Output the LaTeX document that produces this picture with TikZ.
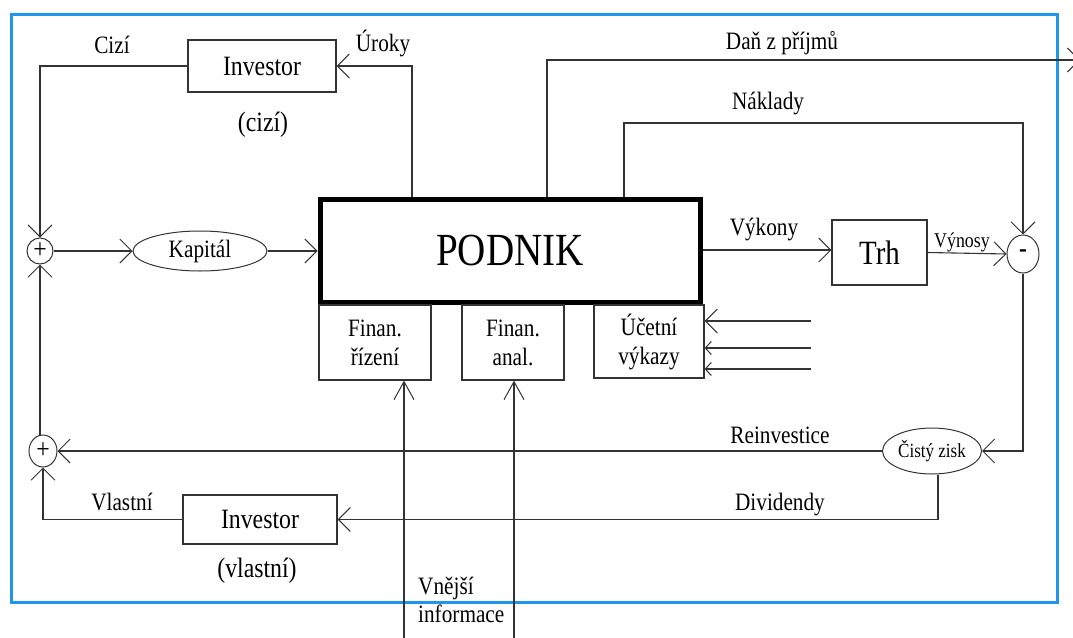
\documentclass[tikz,border=0pt]{standalone}
\usepackage{fontspec}
\setmainfont{Liberation Serif}[FakeStretch=0.85]
\usetikzlibrary{arrows.meta,shapes.geometric,calc}
\definecolor{frameblue}{RGB}{30,150,235}
\newcommand\fsz[2]{\fontsize{#1}{#2}\selectfont}
\tikzset{
 ln/.style={line width=1.1pt, draw=black!80},
 arr/.style={ln, -{Straight Barb[length=12pt,width=24pt,line width=1pt]}},
 sarr/.style={ln, -{Straight Barb[length=6pt,width=13pt,line width=1pt]}},
 varr/.style={ln, -{Straight Barb[length=18pt,width=20pt,line width=1pt]}},
 box/.style={draw=black!80, line width=1.2pt, inner sep=0pt, align=center},
 oval/.style={ellipse, draw=black!80, line width=1pt, inner sep=0pt},
 lbl/.style={inner sep=0pt, anchor=base, font=\fsz{25}{28}},
}
\begin{document}
\begin{tikzpicture}[x=1pt,y=-1pt]
\useasboundingbox (0,0) rectangle (1073,637);
\draw[frameblue, line width=3pt] (11,14) rectangle (1057,602);

% main nodes
\node[draw=black, line width=5pt, minimum width=380pt, minimum height=103pt, inner sep=0pt, font=\fsz{46}{50}] (podnik) at (510,250.5) {PODNIK};
\node[box, minimum width=148pt, minimum height=52pt, font=\fsz{28}{32}] (inv1) at (262,66) {Investor};
\node[box, minimum width=154pt, minimum height=49pt, font=\fsz{28}{32}] (inv2) at (260,519.5) {Investor};
\node[box, minimum width=112pt, minimum height=75pt, font=\fsz{25}{29}] (fr) at (375,342.5) {Finan.\\řízení};
\node[box, minimum width=102pt, minimum height=75pt, font=\fsz{25}{29}] (fa) at (513,342.5) {Finan.\\anal.};
\node[box, minimum width=110pt, minimum height=73pt, font=\fsz{25}{29}] (uv) at (649,341.5) {Účetní\\výkazy};
\node[box, minimum width=95pt, minimum height=65pt, font=\fsz{34}{38}] (trh) at (879.5,252.5) {Trh};
\node[oval, minimum width=134pt, minimum height=40pt, font=\fsz{25}{28}] (kap) at (200,251) {Kapitál};
\node[oval, minimum width=99pt, minimum height=46pt, font=\fsz{20}{24}] (cisty) at (932,451) {Čistý zisk};
\node[oval, minimum width=26pt, minimum height=26pt, font=\fsz{28}{30}] (plus1) at (40,251) {+};
\node[oval, minimum width=28pt, minimum height=32pt, font=\fsz{28}{30}] (plus2) at (43,451) {+};
\node[oval, minimum width=32pt, minimum height=38pt, font=\bfseries\fsz{28}{30}] (minus) at (1023,254) {-};

% labels
\node[lbl] (lcizi) at (112,53) {Cizí};
\node[lbl] (luroky) at (383,51) {Úroky};
\node[lbl, font=\fsz{28}{30}] (lcizi2) at (263,131) {(cizí)};
\node[lbl] (ldan) at (782,49) {Daň z příjmů};
\node[lbl] (lnakl) at (768,109) {Náklady};
\node[lbl] (lvyk) at (764,235) {Výkony};
\node[lbl, font=\fsz{21}{24}] (lvyn) at (962,247) {Výnosy};
\node[lbl] (lrein) at (780,443) {Reinvestice};
\node[lbl] (ldiv) at (780,510) {Dividendy};
\node[lbl] (lvl) at (122,510) {Vlastní};
\node[lbl, font=\fsz{28}{30}] (lvl2) at (257,577) {(vlastní)};
\node[inner sep=0pt, anchor=north west, align=left, font=\fsz{25}{28}] (lvnej) at (418,577) {Vnější\\informace};

% free ends
\coordinate (tax) at (1080,60);
\coordinate (in1) at (404,640);
\coordinate (in2) at (514,640);
\coordinate (e1) at (811,321);
\coordinate (e2) at (811,348);
\coordinate (e3) at (811,369);

% connectors
\draw[arr] (inv1.west) -| (plus1.north);
\draw[arr] (podnik.north -| 412,0) |- (inv1.east);
\draw[arr] (podnik.north -| 547,0) |- (tax);
\draw[arr] (podnik.north -| 624,0) -- (624,123) -| (minus.north);
\draw[arr] (plus1.east) -- (kap.west);
\draw[arr] (kap.east) -- (kap.east -| podnik.west);
\draw[arr] (podnik.east |- 0,250) -- (trh.west |- 0,250);
\draw[arr] (trh.east) -- (minus.west);
\draw[arr] (minus.south) |- (cisty.east);
\draw[arr] (cisty.west) -- (plus2.east);
\draw[arr] (cisty.south -| 938,0) |- (inv2.east);
\draw[arr] (inv2.west) -| (plus2.south);
\draw[arr] (plus2.north -| plus1.south) -- (plus1.south);
\draw[varr] (in1) -- (in1 |- fr.south);
\draw[varr] (in2) -- (in2 |- fa.south);
\draw[arr] (e1) -- (e1 -| uv.east);
\draw[sarr] (e2) -- (e2 -| uv.east);
\draw[sarr] (e3) -- (e3 -| uv.east);
\end{tikzpicture}
\end{document}
